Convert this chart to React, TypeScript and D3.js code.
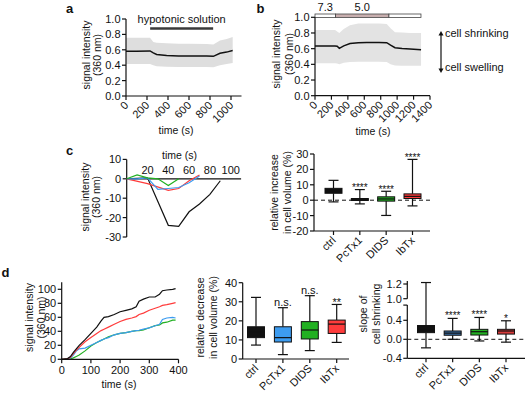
import * as d3 from 'd3';

// ---------------------------------------------------------------------------
// Data
// ---------------------------------------------------------------------------

// panel a — hypotonic solution, mean ± SD band
const aTime = [0, 100, 229, 260, 292, 387, 500, 600, 768, 832, 895, 959, 1016];
const aMean = [0.58, 0.58, 0.585, 0.56, 0.54, 0.525, 0.52, 0.52, 0.52, 0.515, 0.555, 0.57, 0.59];
const aUpper = [0.755, 0.755, 0.755, 0.7, 0.69, 0.685, 0.68, 0.68, 0.675, 0.67, 0.72, 0.74, 0.765];
const aLower = [0.415, 0.415, 0.415, 0.4, 0.385, 0.38, 0.378, 0.378, 0.378, 0.375, 0.4, 0.415, 0.43];
const hypotonicPeriod = [230, 830];

// panel b — pH 7.3 -> 5.0 -> 7.3
const bTime = [0, 244, 270, 296, 350, 426, 528, 629, 780, 873, 920, 974, 1060, 1157, 1291];
const bMean = [0.634, 0.635, 0.63, 0.604, 0.635, 0.665, 0.675, 0.68, 0.68, 0.676, 0.645, 0.612, 0.603, 0.596, 0.587];
const bUpper = [0.838, 0.838, 0.82, 0.8, 0.85, 0.9, 0.92, 0.92, 0.92, 0.915, 0.86, 0.81, 0.805, 0.8, 0.8];
const bLower = [0.413, 0.413, 0.41, 0.4, 0.42, 0.43, 0.434, 0.434, 0.434, 0.43, 0.4, 0.385, 0.383, 0.383, 0.383];
const bPhaseBounds = [0, 250, 900, 1290];
const bPhaseLabels = ['7.3', '5.0', ''];

// panel c — example traces
const cTimeBlack = [0, 10, 20, 40, 50, 60, 70, 80, 90];
const cBlack = [0, 0.2, 0.5, -24, -24.5, -17, -13, -8, -1];
const cTimeGreen = [0, 10, 20, 30, 40, 50];
const cGreen = [0, 2, 0.5, 0, -3.5, 0];
const cTimeRed = [0, 20, 40, 50, 60, 70];
const cRed = [0, -2.5, -6, -5, -1, 2];
const cTimeBlue = [0, 10, 20, 30, 40, 50, 60, 70];
const cBlue = [0, 0, 0.5, -5.5, -5, -4.5, -2, 1.5];

const boxCats = ['ctrl', 'PcTx1', 'DIDS', 'IbTx'];

// panel c — relative increase in cell volume (%)
const cMin = [-1.1, -2.4, -9.9, -3.7];
const cQ1 = [4.5, -0.2, -0.6, 1.1];
const cMed = [6, 0.5, 0.8, 2.5];
const cQ3 = [7.7, 1.1, 2.2, 4.1];
const cMax = [12.9, 6.9, 5.8, 26.5];
const cStars = ['', '****', '****', '****'];

// panel d — example traces
const dTime = [0, 20, 30, 40, 50, 60, 80, 100, 120, 135, 145, 160, 180, 200, 220, 240, 255, 265, 280, 300, 320, 335, 345, 360, 380, 390];
const dBlack = [0, 1, 4, 10, 15, 20, 28, 37, 46, 55, 60, 61, 64, 68, 70, 72, 75, 83, 86, 89, 89, 93, 98, 99, 100, 101];
const dRed = [0, 0.5, 3, 8, 13, 17, 25, 31, 37, 41, 43, 46, 50, 54, 57, 59, 61, 64, 66, 70, 73, 75, 77, 78, 80, 81];
const dBlue = [0, 0, 2, 6, 12, 15, 16, 20, 24, 27, 29, 31, 35, 37, 38, 40, 41, 41.5, 43, 45, 48, 50, 57, 59, 60, 59];
const dGreen = [0, 0, 0.5, 2, 4, 6, 12, 19, 24, 27, 29, 32, 35, 37, 38, 40, 41, 41, 42, 45, 48, 49, 52, 53, 56, 56];

// panel d — relative decrease in cell volume (%)
const dmMin = [7.3, 2.3, 4.4, 8.7];
const dmQ1 = [11.2, 8.9, 10.5, 13.4];
const dmMed = [14, 11.2, 15.2, 18.3];
const dmQ3 = [16.9, 16.9, 19.6, 20.4];
const dmMax = [32.3, 26.9, 33.2, 28.6];
const dmStars = ['', 'n.s.', 'n.s.', '**'];

// panel d — slope of cell shrinking
const drMin = [-0.18, 0, -0.035, -0.06];
const drQ1 = [0.14, 0.085, 0.09, 0.11];
const drMed = [0.2, 0.13, 0.16, 0.175];
const drQ3 = [0.29, 0.175, 0.21, 0.21];
const drMax = [1.22, 0.44, 0.46, 0.39];
const drStars = ['', '****', '****', '*'];

// ---------------------------------------------------------------------------

const FONT = '"Liberation Sans", Arial, Helvetica, sans-serif';
const BLACK = '#111';
const GREEN = '#22b022';
const RED = '#ff3b3b';
const BLUE = '#3d9cf0';
const TITLE_FS = 10.5;

type Lin = (v: number) => number;

function LeftAxis({ y, x, ticks, fmt, top, bottom }: {
  y: Lin; x: number; ticks: number[]; fmt: (v: number) => string; top: number; bottom: number;
}) {
  return (
    <g>
      <line x1={x} x2={x} y1={top} y2={bottom} stroke={BLACK} strokeWidth={1.2} />
      {ticks.map((t) => (
        <g key={t}>
          <line x1={x - 4} x2={x} y1={y(t)} y2={y(t)} stroke={BLACK} strokeWidth={1.2} />
          <text x={x - 5.5} y={y(t)} dy="0.36em" textAnchor="end" fontSize={11}>{fmt(t)}</text>
        </g>
      ))}
    </g>
  );
}

function BottomAxisRot({ x, y0, ticks, labels, left, right }: {
  x: Lin; y0: number; ticks: any[]; labels: string[]; left: number; right: number;
}) {
  return (
    <g>
      <line x1={left} x2={right} y1={y0} y2={y0} stroke={BLACK} strokeWidth={1.2} />
      {ticks.map((t, i) => (
        <g key={i}>
          <line x1={x(t)} x2={x(t)} y1={y0} y2={y0 + 4} stroke={BLACK} strokeWidth={1.2} />
          <text transform={`translate(${x(t) + 3},${y0 + 10}) rotate(-45)`} textAnchor="end" fontSize={11}>
            {labels[i]}
          </text>
        </g>
      ))}
    </g>
  );
}

function YTitle({ lines, xs, cy }: { lines: string[]; xs: number[]; cy: number }) {
  return (
    <g>
      {lines.map((l, i) => (
        <text key={i} transform={`translate(${xs[i]},${cy}) rotate(-90)`} textAnchor="middle" fontSize={TITLE_FS}>
          {l}
        </text>
      ))}
    </g>
  );
}

function Box({ cx, y, min, q1, med, q3, max, fill, star, starSize = 10, starDy = 1 }: {
  cx: number; y: Lin; min: number; q1: number; med: number; q3: number; max: number;
  fill: string; star?: string; starSize?: number; starDy?: number;
}) {
  const w = 17;
  const cap = 10;
  return (
    <g stroke={BLACK} strokeWidth={1.2}>
      <line x1={cx} x2={cx} y1={y(max)} y2={y(q3)} />
      <line x1={cx} x2={cx} y1={y(q1)} y2={y(min)} />
      <line x1={cx - cap / 2} x2={cx + cap / 2} y1={y(max)} y2={y(max)} />
      <line x1={cx - cap / 2} x2={cx + cap / 2} y1={y(min)} y2={y(min)} />
      <rect x={cx - w / 2} y={y(q3)} width={w} height={Math.max(1.5, y(q1) - y(q3))} fill={fill} strokeWidth={1} />
      <line x1={cx - w / 2} x2={cx + w / 2} y1={y(med)} y2={y(med)} />
      {star ? (
        <text x={cx} y={y(max) + starDy} textAnchor="middle" fontSize={starSize} stroke="none" fill={BLACK}>
          {star}
        </text>
      ) : null}
    </g>
  );
}

function trace(X: Lin, Y: Lin, t: number[], v: number[]) {
  return d3.line<number>().x((_, i) => X(t[i])).y((d) => Y(d))(v) || '';
}

function band(X: Lin, Y: Lin, t: number[], lo: number[], hi: number[]) {
  return d3.area<number>().x((_, i) => X(t[i])).y0((_, i) => Y(lo[i])).y1((d) => Y(d))(hi) || '';
}

export default function App() {
  // panel a
  const aX = d3.scaleLinear().domain([0, 1100]).range([126, 241.5]);
  const aY = d3.scaleLinear().domain([0, 1]).range([96, 19]);
  // panel b
  const bX = d3.scaleLinear().domain([0, 1400]).range([315, 430]);
  const bY = d3.scaleLinear().domain([0, 1]).range([95.7, 17.3]);
  // panel c lines
  const cX = d3.scaleLinear().domain([0, 110]).range([126.7, 241.1]);
  const cY = d3.scaleLinear().domain([-30, 10]).range([237, 159.4]);
  // panel c boxes
  const cbX = d3.scalePoint<string>().domain(boxCats).range([333.5, 412.5]);
  const cbY = d3.scaleLinear().domain([-20, 30]).range([231, 154]);
  // panel d lines
  const dX = d3.scaleLinear().domain([0, 400]).range([61.7, 178.5]);
  const dY = d3.scaleLinear().domain([0, 100]).range([359.3, 289.3]);
  // panel d middle boxes
  const dmX = d3.scalePoint<string>().domain(boxCats).range([256, 336.7]);
  const dmY = d3.scaleLinear().domain([0, 40]).range([359, 282.7]);
  // panel d right boxes (broken axis)
  const drX = d3.scalePoint<string>().domain(boxCats).range([426, 506]);
  const drLow = d3.scaleLinear().domain([-0.4, 0.4]).range([358.3, 320.3]);
  const drUp = d3.scaleLinear().domain([1.0, 1.2]).range([298.7, 284]);
  const drY = (v: number) => (v > 0.9 ? drUp(v) : drLow(v));

  const f1 = (v: number) => v.toFixed(1);
  const f0 = (v: number) => String(v);
  const cX0 = (c: string) => cbX(c) ?? 0;
  const dmX0 = (c: string) => dmX(c) ?? 0;
  const drX0 = (c: string) => drX(c) ?? 0;

  const cColors = [BLACK, BLACK, GREEN, RED];
  const dmColors = [BLACK, BLUE, GREEN, RED];
  const drColors = [BLACK, '#3a6ea5', GREEN, '#d93a3a'];

  return (
    <svg width={530} height={397} style={{ position: 'absolute', left: 0, top: 0, background: '#fff' }}
      fontFamily={FONT} fill={BLACK}>
      {/* ---------------- panel a ---------------- */}
      <text x={66} y={12.5} fontSize={13} fontWeight="bold">a</text>
      <path d={band(aX, aY, aTime, aLower, aUpper)} fill="#dedede" />
      <path d={trace(aX, aY, aTime, aMean)} fill="none" stroke={BLACK} strokeWidth={1.5} />
      <line x1={aX(hypotonicPeriod[0])} x2={aX(hypotonicPeriod[1])} y1={28.5} y2={28.5} stroke="#3a3a3a" strokeWidth={2.7} />
      <text x={(aX(hypotonicPeriod[0]) + aX(hypotonicPeriod[1])) / 2} y={23} textAnchor="middle" fontSize={11}>hypotonic solution</text>
      <LeftAxis y={aY} x={126} ticks={[0, 0.2, 0.4, 0.6, 0.8, 1.0]} fmt={f1} top={aY(1)} bottom={aY(0)} />
      <BottomAxisRot x={aX} y0={aY(0)} ticks={[0, 200, 400, 600, 800, 1000]} labels={['0', '200', '400', '600', '800', '1000']} left={126} right={aX(1100)} />
      <YTitle lines={['signal intensity', '(360 nm)']} xs={[89.5, 100.5]} cy={55} />
      <text x={176} y={134} textAnchor="middle" fontSize={TITLE_FS}>time (s)</text>

      {/* ---------------- panel b ---------------- */}
      <text x={256.5} y={12.5} fontSize={13} fontWeight="bold">b</text>
      <path d={band(bX, bY, bTime, bLower, bUpper)} fill="#e3e3e3" />
      <path d={trace(bX, bY, bTime, bMean)} fill="none" stroke={BLACK} strokeWidth={1.5} />
      {bPhaseLabels.map((lab, i) => (
        <g key={i}>
          <rect x={bX(bPhaseBounds[i])} y={14} width={bX(bPhaseBounds[i + 1]) - bX(bPhaseBounds[i])} height={3.4}
            fill={i === 1 ? '#c8afaf' : '#fff'} stroke="#444" strokeWidth={0.8} />
          <text x={(bX(bPhaseBounds[i]) + bX(bPhaseBounds[i + 1])) / 2} y={11} textAnchor="middle" fontSize={11}>{lab}</text>
        </g>
      ))}
      <LeftAxis y={bY} x={315} ticks={[0, 0.2, 0.4, 0.6, 0.8, 1.0]} fmt={f1} top={bY(1)} bottom={bY(0)} />
      <BottomAxisRot x={bX} y0={bY(0)} ticks={[0, 200, 400, 600, 800, 1000, 1200, 1400]}
        labels={['0', '200', '400', '600', '800', '1000', '1200', '1400']} left={315} right={bX(1400)} />
      <YTitle lines={['signal intensity', '(360 nm)']} xs={[279.5, 293]} cy={54} />
      <text x={373} y={135} textAnchor="middle" fontSize={TITLE_FS}>time (s)</text>
      <line x1={441} x2={441} y1={33} y2={71} stroke={BLACK} strokeWidth={1.2} />
      <path d="M438.5,35.5 L441,31 L443.5,35.5 Z" fill={BLACK} />
      <path d="M438.5,68.5 L441,73 L443.5,68.5 Z" fill={BLACK} />
      <text x={445} y={36.5} fontSize={11}>cell shrinking</text>
      <text x={445} y={71} fontSize={11}>cell swelling</text>

      {/* ---------------- panel c lines ---------------- */}
      <text x={66} y={154.5} fontSize={13} fontWeight="bold">c</text>
      <LeftAxis y={cY} x={126.7} ticks={[10, 0, -10, -20, -30]} fmt={f0} top={cY(10)} bottom={cY(-30)} />
      <line x1={126.7} x2={cX(110)} y1={cY(0)} y2={cY(0)} stroke={BLACK} strokeWidth={1.2} />
      {[20, 40, 60, 80, 100].map((t) => (
        <text key={t} x={cX(t)} y={cY(0) - 5} textAnchor="middle" fontSize={11}>{t}</text>
      ))}
      <text x={179.5} y={159} textAnchor="middle" fontSize={TITLE_FS}>time (s)</text>
      <path d={trace(cX, cY, cTimeBlack, cBlack)} fill="none" stroke={BLACK} strokeWidth={1.2} />
      <path d={trace(cX, cY, cTimeRed, cRed)} fill="none" stroke={RED} strokeWidth={1.2} />
      <path d={trace(cX, cY, cTimeBlue, cBlue)} fill="none" stroke={BLUE} strokeWidth={1.2} />
      <path d={trace(cX, cY, cTimeGreen, cGreen)} fill="none" stroke={GREEN} strokeWidth={1.2} />
      <YTitle lines={['signal intensity', '(360 nm)']} xs={[88.5, 99.5]} cy={197} />

      {/* ---------------- panel c boxes ---------------- */}
      <line x1={314} x2={430} y1={cbY(0)} y2={cbY(0)} stroke={BLACK} strokeWidth={1} strokeDasharray="4,3" />
      {boxCats.map((c, i) => (
        <Box key={c} cx={cX0(c)} y={cbY} min={cMin[i]} q1={cQ1[i]} med={cMed[i]} q3={cQ3[i]} max={cMax[i]}
          fill={cColors[i]} star={cStars[i]} starDy={1.5} />
      ))}
      <LeftAxis y={cbY} x={314} ticks={[30, 20, 10, 0, -10, -20]} fmt={f0} top={cbY(30)} bottom={cbY(-20)} />
      <BottomAxisRot x={cX0 as any} y0={cbY(-20)} ticks={boxCats} labels={boxCats} left={314} right={430} />
      <YTitle lines={['relative increase', 'in cell volume (%)']} xs={[278, 291]} cy={192.5} />

      {/* ---------------- panel d lines ---------------- */}
      <text x={1.5} y={277} fontSize={13} fontWeight="bold">d</text>
      <path d={trace(dX, dY, dTime, dGreen)} fill="none" stroke={GREEN} strokeWidth={1.2} />
      <path d={trace(dX, dY, dTime, dBlue)} fill="none" stroke={BLUE} strokeWidth={1.2} />
      <path d={trace(dX, dY, dTime, dRed)} fill="none" stroke={RED} strokeWidth={1.2} />
      <path d={trace(dX, dY, dTime, dBlack)} fill="none" stroke={BLACK} strokeWidth={1.2} />
      <LeftAxis y={dY} x={61.7} ticks={[0, 20, 40, 60, 80, 100]} fmt={f0} top={dY(110)} bottom={dY(0)} />
      <line x1={61.7} x2={dX(400)} y1={dY(0)} y2={dY(0)} stroke={BLACK} strokeWidth={1.2} />
      {[0, 100, 200, 300, 400].map((t) => (
        <g key={t}>
          <line x1={dX(t)} x2={dX(t)} y1={dY(0)} y2={dY(0) + 4} stroke={BLACK} strokeWidth={1.2} />
          <text x={dX(t)} y={dY(0) + 15} textAnchor="middle" fontSize={11}>{t}</text>
        </g>
      ))}
      <text x={119} y={388} textAnchor="middle" fontSize={TITLE_FS}>time (s)</text>
      <YTitle lines={['signal intensity', '(360 nm)']} xs={[33, 44.5]} cy={317.5} />

      {/* ---------------- panel d middle boxes ---------------- */}
      {boxCats.map((c, i) => (
        <Box key={c} cx={dmX0(c)} y={dmY} min={dmMin[i]} q1={dmQ1[i]} med={dmMed[i]} q3={dmQ3[i]} max={dmMax[i]}
          fill={dmColors[i]} star={dmStars[i]} starSize={11} starDy={dmStars[i] === '**' ? 2 : -2} />
      ))}
      <LeftAxis y={dmY} x={242.7} ticks={[0, 10, 20, 30, 40]} fmt={f0} top={dmY(40)} bottom={dmY(0)} />
      <BottomAxisRot x={dmX0 as any} y0={dmY(0)} ticks={boxCats} labels={boxCats} left={242.7} right={349} />
      <YTitle lines={['relative decrease', 'in cell volume (%)']} xs={[204, 216.5]} cy={317.5} />

      {/* ---------------- panel d right boxes ---------------- */}
      <line x1={407.3} x2={525} y1={drLow(0)} y2={drLow(0)} stroke={BLACK} strokeWidth={1} strokeDasharray="4,3" />
      {boxCats.map((c, i) => (
        <Box key={c} cx={drX0(c)} y={drY} min={drMin[i]} q1={drQ1[i]} med={drMed[i]} q3={drQ3[i]} max={drMax[i]}
          fill={drColors[i]} star={drStars[i]} starDy={drStars[i] === '*' ? 1.5 : 1} />
      ))}
      <LeftAxis y={drLow} x={407.3} ticks={[-0.4, 0, 0.4]} fmt={f1} top={drLow(0.72)} bottom={drLow(-0.4)} />
      <line x1={403.3} x2={407.3} y1={drLow(0.72)} y2={drLow(0.72)} stroke={BLACK} strokeWidth={1.2} />
      <LeftAxis y={drUp} x={407.3} ticks={[1.0, 1.2]} fmt={f1} top={drUp(1.24)} bottom={drUp(1.0)} />
      <BottomAxisRot x={drX0 as any} y0={drLow(-0.4)} ticks={boxCats} labels={boxCats} left={407.3} right={525} />
      <YTitle lines={['slope of', 'cell shrinking']} xs={[366.5, 379.5]} cy={314} />
    </svg>
  );
}
